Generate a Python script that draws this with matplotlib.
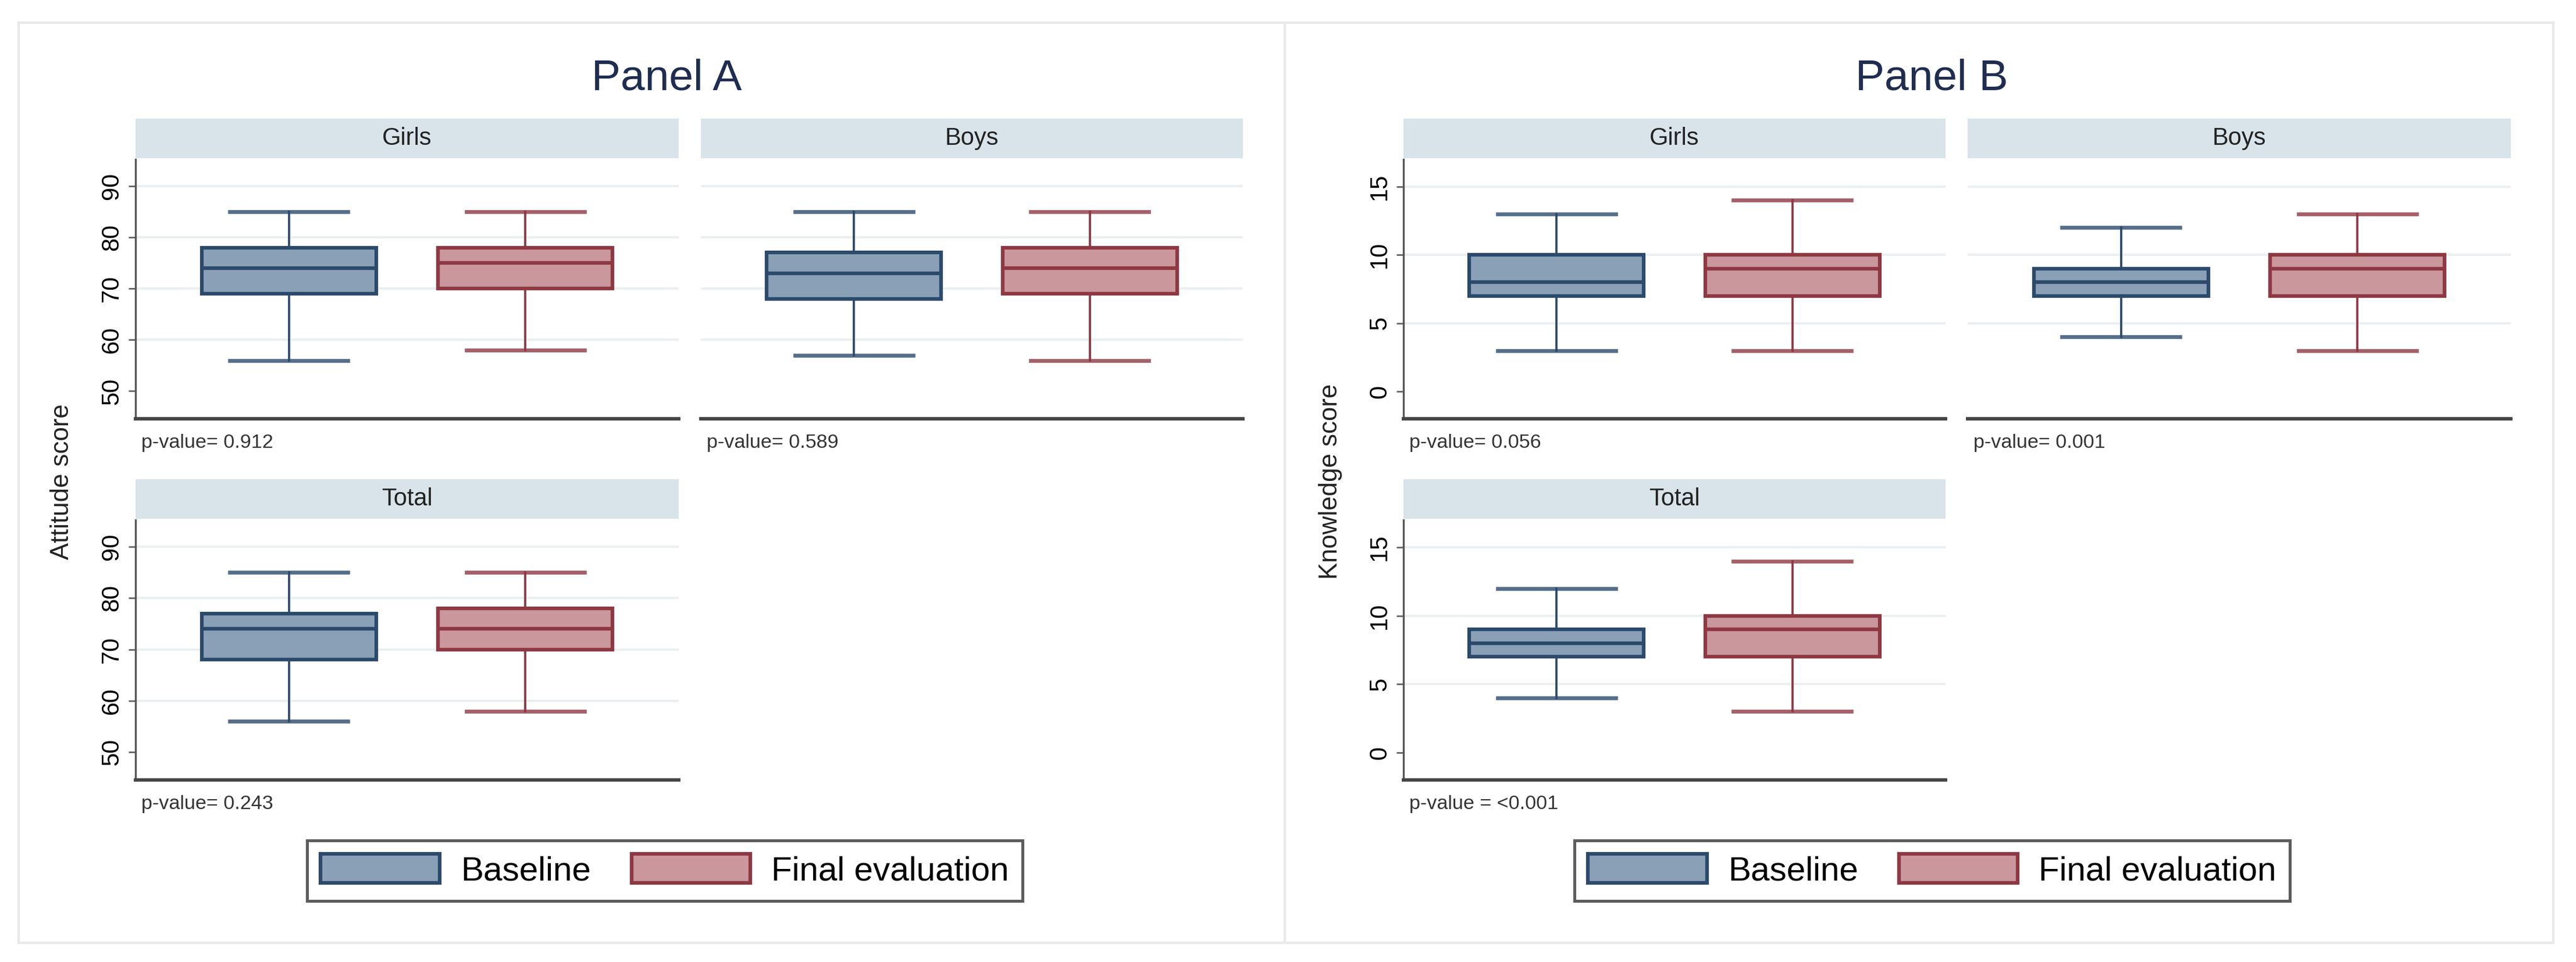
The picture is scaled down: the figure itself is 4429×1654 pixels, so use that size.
import matplotlib
matplotlib.use('Agg')
import matplotlib.pyplot as plt
from matplotlib.patches import Patch, Rectangle

plt.rcParams['font.family'] = ['Liberation Sans', 'DejaVu Sans']

# Data (box plot summaries)
groups = ['Girls', 'Boys', 'Total']
series = ['Baseline', 'Final evaluation']

att_base_lo = [56, 57, 56]
att_base_q1 = [69, 68, 68]
att_base_med = [74, 73, 74]
att_base_q3 = [78, 77, 77]
att_base_hi = [85, 85, 85]
att_final_lo = [58, 56, 58]
att_final_q1 = [70, 69, 70]
att_final_med = [75, 74, 74]
att_final_q3 = [78, 78, 78]
att_final_hi = [85, 85, 85]
att_pvalues = ['p-value= 0.912', 'p-value= 0.589', 'p-value= 0.243']
att_ticks = [50, 60, 70, 80, 90]

know_base_lo = [3, 4, 4]
know_base_q1 = [7, 7, 7]
know_base_med = [8, 8, 8]
know_base_q3 = [10, 9, 9]
know_base_hi = [13, 12, 12]
know_final_lo = [3, 3, 3]
know_final_q1 = [7, 7, 7]
know_final_med = [9, 9, 9]
know_final_q3 = [10, 10, 10]
know_final_hi = [14, 13, 14]
know_pvalues = ['p-value= 0.056', 'p-value= 0.001', 'p-value = <0.001']
know_ticks = [0, 5, 10, 15]

W, H = 4429, 1654
fill_colors = ['#8aa0b7', '#c9979c']
edge_colors = ['#2b4a6c', '#8e3843']
strip_color = '#d9e4ea'
grid_color = '#eaeff1'


def px(x0, y0, x1, y1):
    return [x0 / W, 1 - y1 / H, (x1 - x0) / W, (y1 - y0) / H]


def stats(lo, q1, med, q3, hi, i):
    return dict(whislo=lo[i], q1=q1[i], med=med[i], q3=q3[i], whishi=hi[i], fliers=[])


fig = plt.figure(figsize=(W / 300, H / 300), dpi=300)
fig.patch.set_facecolor('white')

panels = [
    dict(title='Panel A', x0=32, x1=2209, title_x=1146, cols=[(233, 1167), (1205, 2137)],
         ylabel='Attitude score', ylim=(44.6, 95.2), ticks=att_ticks, pvals=att_pvalues,
         base=(att_base_lo, att_base_q1, att_base_med, att_base_q3, att_base_hi),
         final=(att_final_lo, att_final_q1, att_final_med, att_final_q3, att_final_hi),
         legend_x=1143),
    dict(title='Panel B', x0=2209, x1=4390, title_x=3321, cols=[(2413, 3345), (3383, 4317)],
         ylabel='Knowledge score', ylim=(-2.0, 17.0), ticks=know_ticks, pvals=know_pvalues,
         base=(know_base_lo, know_base_q1, know_base_med, know_base_q3, know_base_hi),
         final=(know_final_lo, know_final_q1, know_final_med, know_final_q3, know_final_hi),
         legend_x=3322),
]

rows = [(204, 272, 274, 720), (824, 892, 894, 1341)]

for p in panels:
    fig.patches.append(Rectangle((p['x0'] / W, 1 - 1621 / H), (p['x1'] - p['x0']) / W, (1621 - 39) / H,
                                 transform=fig.transFigure, facecolor='none', edgecolor='#e9e9e9',
                                 lw=1.0, zorder=-1))
    fig.text(p['title_x'] / W, 1 - 135 / H, p['title'], ha='center', va='center',
             fontsize=18, color='#1e2d50')
    fig.text((p['cols'][0][0] - 126) / W, 1 - 828 / H, p['ylabel'], rotation=90,
             ha='center', va='center', fontsize=10.5, color='#222222')

    for i, g in enumerate(groups):
        r = 0 if i < 2 else 1
        c = p['cols'][i % 2] if i < 2 else p['cols'][0]
        s0, s1, a0, a1 = rows[r]

        sax = fig.add_axes(px(c[0], s0, c[1], s1))
        sax.set_facecolor(strip_color)
        for sp in sax.spines.values():
            sp.set_visible(False)
        sax.set_xticks([])
        sax.set_yticks([])
        sax.text(0.5, 0.5, g, ha='center', va='center', fontsize=10, color='#222222',
                 transform=sax.transAxes)

        ax = fig.add_axes(px(c[0], a0, c[1], a1))
        ax.patch.set_alpha(0)
        for j, data in enumerate([p['base'], p['final']]):
            ax.bxp([stats(*data, i)], positions=[j + 1], widths=0.74, capwidths=0.5,
                   patch_artist=True, showfliers=False,
                   boxprops=dict(facecolor=fill_colors[j], edgecolor=edge_colors[j], linewidth=1.5),
                   medianprops=dict(color=edge_colors[j], linewidth=1.5),
                   whiskerprops=dict(color=edge_colors[j], linewidth=0.9),
                   capprops=dict(color=edge_colors[j], linewidth=1.6, alpha=0.8))
        ax.set_xlim(0.35, 2.65)
        ax.set_ylim(*p['ylim'])
        for t in p['ticks'][1:]:
            ax.axhline(t, color=grid_color, lw=0.9, zorder=0)
        ax.set_xticks([])
        ax.set_yticks(p['ticks'])
        if i == 1:
            ax.set_yticklabels([])
            ax.tick_params(axis='y', length=0)
        else:
            ax.set_yticklabels([str(t) for t in p['ticks']], rotation=90, va='center', fontsize=10)
            ax.tick_params(axis='y', length=3, width=0.6, color='#555555', pad=2)
        ax.spines['top'].set_visible(False)
        ax.spines['right'].set_visible(False)
        ax.spines['bottom'].set_color('#444444')
        ax.spines['bottom'].set_linewidth(1.4)
        ax.spines['left'].set_color('#555555')
        ax.spines['left'].set_linewidth(0.8 if i != 1 else 0)
        ax.text(0.011, -0.093, p['pvals'][i], transform=ax.transAxes, ha='left', va='center',
                fontsize=8.2, color='#333333')

    handles = [Patch(facecolor=fill_colors[k], edgecolor=edge_colors[k], linewidth=1.5, label=series[k])
               for k in range(2)]
    leg = fig.legend(handles=handles, loc='center', bbox_to_anchor=(p['legend_x'] / W, 1 - 1497 / H),
                     ncol=2, fontsize=14, handlelength=3.5, handleheight=0.94, handletextpad=0.62,
                     columnspacing=1.2, borderpad=0.4, fancybox=False, frameon=True)
    leg.get_frame().set_edgecolor('#333333')
    leg.get_frame().set_linewidth(1.2)

fig.savefig('out.png', dpi=300, facecolor='white')
